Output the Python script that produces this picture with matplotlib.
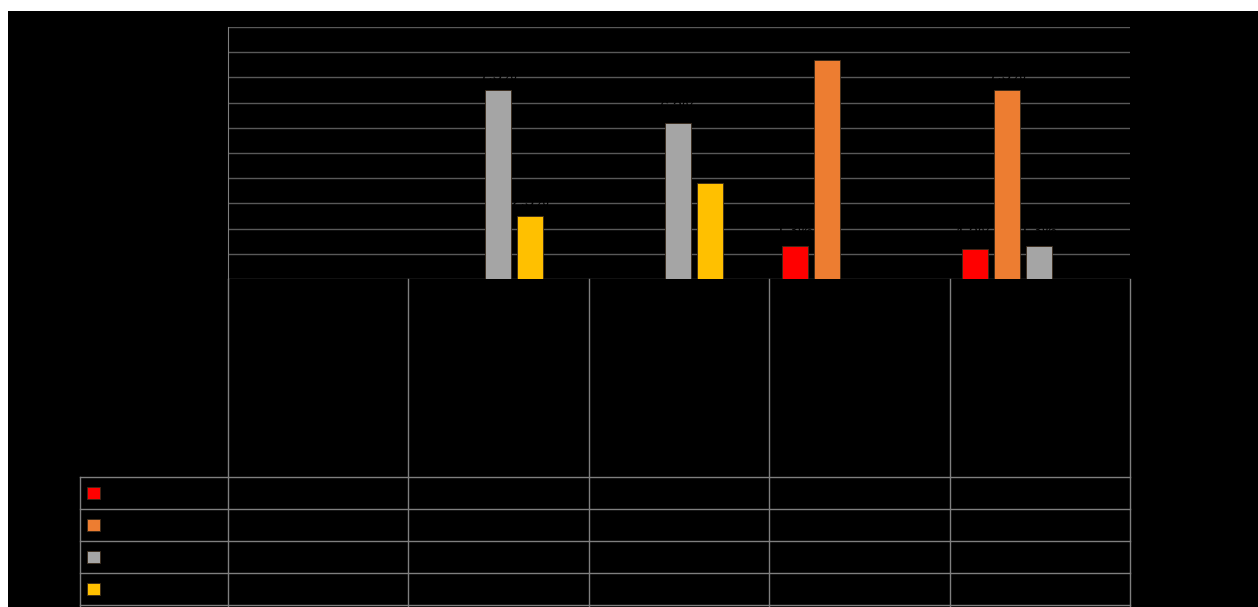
import matplotlib
matplotlib.use("Agg")
import matplotlib.pyplot as plt
from matplotlib.patches import Rectangle
import numpy as np

plt.rcParams['font.family'] = ['Liberation Sans', 'DejaVu Sans']

# 数据：5个分类，4个系列（空值用 None）
categories = ["", "", "", "", ""]
series_colors = ["#FF0000", "#ED7D31", "#A5A5A5", "#FFC000"]
s1 = [None, None, None, 1.3, 1.2]
s2 = [None, None, None, 8.7, 7.5]
s3 = [None, 7.5, 6.2, None, 1.3]
s4 = [None, 2.5, 3.8, None, None]
series_values = [s1, s2, s3, s4]
y_ticks = [0, 1, 2, 3, 4, 5, 6, 7, 8, 9, 10]

W, H = 1258, 607
fig = plt.figure(figsize=(W / 100, H / 100), dpi=100, facecolor="white")

# 黑色底板（左上留白边）
fig.add_artist(Rectangle((8 / W, 0), 1 - 8 / W, 1 - 11 / H,
                         transform=fig.transFigure, facecolor="black",
                         edgecolor="none", zorder=0))


def px_axes(x0, y0, x1, y1):
    return fig.add_axes([x0 / W, 1 - y1 / H, (x1 - x0) / W, (y1 - y0) / H])


grid_c = "#595959"
line_c = "#7f7f7f"

# ---------------- 柱状图 ----------------
ax = px_axes(228, 27, 1130, 279)
ax.set_facecolor("black")
n_cat = len(categories)
x = np.arange(n_cat)
bar_w = 0.144
slot = 0.177
slots = [-2, -1, 0, 1]

for vals, color, k in zip(series_values, series_colors, slots):
    for i, v in enumerate(vals):
        if v is None:
            continue
        xi = x[i] + k * slot - 0.005
        ax.bar(xi, v, width=bar_w, color=color, edgecolor="#3a2a1a",
               linewidth=0.6, zorder=3)
        ax.text(xi, v + 0.28, f"{v:.1f}%", ha="center", va="bottom",
                fontsize=12, color="black", zorder=4)

ax.set_xlim(-0.5, n_cat - 0.5)
ax.set_ylim(y_ticks[0], y_ticks[-1])
ax.set_yticks(y_ticks)
ax.yaxis.grid(True, color=grid_c, linewidth=1)
ax.set_axisbelow(True)
ax.tick_params(length=0, labelcolor="black", labelbottom=False)
ax.set_xticks([])
for side in ["top", "right", "bottom"]:
    ax.spines[side].set_visible(False)
ax.spines["left"].set_color(line_c)

# ---------------- 数据表 ----------------
left_w = 148 / 180.4
tab = px_axes(80, 279, 1130, 607)
tab.set_facecolor("none")
tab.patch.set_alpha(0)
tab.set_xlim(-0.5 - left_w, n_cat - 0.5)
tab.set_ylim(328, 0)
tab.axis("off")

header_h = 198
row_h = 32
n_rows = len(series_values)

# 分类列竖线
for xv in np.arange(-0.5, n_cat, 1.0):
    tab.plot([xv, xv], [0, 328], color=line_c, lw=1, clip_on=False)
# 行标题列左边线
tab.plot([-0.5 - left_w] * 2, [header_h, 328], color=line_c, lw=1, clip_on=False)
# 横线
for r in range(n_rows + 1):
    yv = header_h + r * row_h
    tab.plot([-0.5 - left_w, n_cat - 0.5], [yv, yv], color=line_c, lw=1,
             clip_on=False)

# 图例色块 + 单元格数值
for r, (vals, color) in enumerate(zip(series_values, series_colors)):
    yc = header_h + r * row_h + row_h / 2
    tab.add_patch(Rectangle((-0.5 - left_w + 7 / 180.4, yc - 6.3), 12.6 / 180.4, 12.6,
                            facecolor=color, edgecolor="#3a2a1a", lw=0.6))
    for i, v in enumerate(vals):
        if v is not None:
            tab.text(x[i], yc, f"{v:.1f}%", ha="center", va="center",
                     fontsize=10, color="black")

fig.savefig("out.png", dpi=100, facecolor=fig.get_facecolor())
